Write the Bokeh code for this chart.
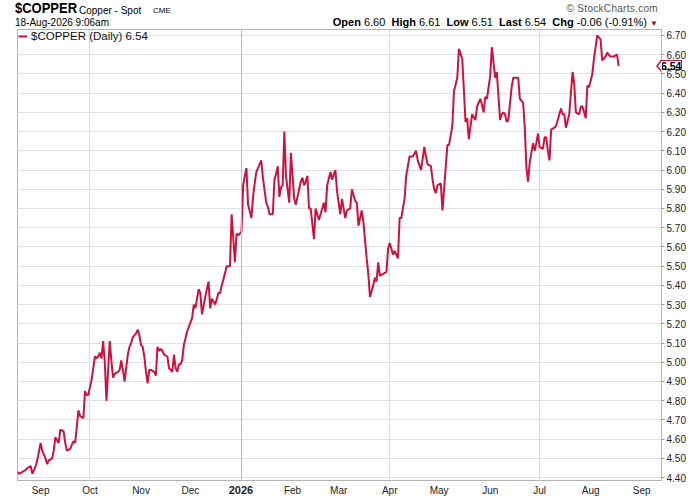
import pandas as pd
from bokeh.plotting import figure
from bokeh.models import (Range1d, FixedTicker, DatetimeTickFormatter, NumeralTickFormatter, Span, Div)
from bokeh.layouts import column
from bokeh.embed import file_html
from bokeh.resources import INLINE

# ---------------- data ----------------
dates = [
    "2025-08-18", "2025-08-19", "2025-08-21", "2025-08-23", "2025-08-24", "2025-08-26", "2025-08-27", "2025-08-29", "2025-08-30",
    "2025-09-01", "2025-09-02", "2025-09-04", "2025-09-05", "2025-09-06", "2025-09-08", "2025-09-09", "2025-09-10", "2025-09-12",
    "2025-09-13", "2025-09-15", "2025-09-16", "2025-09-17", "2025-09-19", "2025-09-20", "2025-09-21", "2025-09-22", "2025-09-24",
    "2025-09-25", "2025-09-27", "2025-09-28", "2025-09-29", "2025-09-30",
    "2025-10-02", "2025-10-03", "2025-10-04", "2025-10-05", "2025-10-06", "2025-10-07", "2025-10-08", "2025-10-09", "2025-10-10",
    "2025-10-11", "2025-10-13", "2025-10-14", "2025-10-15", "2025-10-16", "2025-10-18", "2025-10-19", "2025-10-20", "2025-10-21",
    "2025-10-22", "2025-10-23", "2025-10-24", "2025-10-25", "2025-10-26", "2025-10-27", "2025-10-28", "2025-10-29", "2025-10-30",
    "2025-10-31",
    "2025-11-01", "2025-11-02", "2025-11-03", "2025-11-04", "2025-11-05", "2025-11-06", "2025-11-07", "2025-11-09", "2025-11-10",
    "2025-11-11", "2025-11-12", "2025-11-13", "2025-11-14", "2025-11-15", "2025-11-17", "2025-11-18", "2025-11-19", "2025-11-20",
    "2025-11-21", "2025-11-22", "2025-11-23", "2025-11-24", "2025-11-25", "2025-11-26", "2025-11-27", "2025-11-29",
    "2025-12-02", "2025-12-03", "2025-12-04", "2025-12-06", "2025-12-07", "2025-12-08", "2025-12-10", "2025-12-12", "2025-12-13",
    "2025-12-14", "2025-12-16", "2025-12-18", "2025-12-19", "2025-12-20", "2025-12-21", "2025-12-23", "2025-12-24", "2025-12-25",
    "2025-12-26", "2025-12-28", "2025-12-29", "2025-12-30",
    "2026-01-01", "2026-01-02", "2026-01-03", "2026-01-04", "2026-01-05", "2026-01-07", "2026-01-08", "2026-01-09", "2026-01-10",
    "2026-01-11", "2026-01-13", "2026-01-14", "2026-01-16", "2026-01-17", "2026-01-18", "2026-01-20", "2026-01-21", "2026-01-22",
    "2026-01-23", "2026-01-24", "2026-01-25", "2026-01-26", "2026-01-27", "2026-01-28", "2026-01-30", "2026-01-31",
    "2026-02-01", "2026-02-02", "2026-02-03", "2026-02-05", "2026-02-06", "2026-02-07", "2026-02-08", "2026-02-09", "2026-02-10",
    "2026-02-11", "2026-02-12", "2026-02-14", "2026-02-15", "2026-02-17", "2026-02-20", "2026-02-21", "2026-02-22", "2026-02-24",
    "2026-02-25", "2026-02-27", "2026-02-28",
    "2026-03-02", "2026-03-03", "2026-03-05", "2026-03-06", "2026-03-08", "2026-03-09", "2026-03-11", "2026-03-12", "2026-03-13",
    "2026-03-15", "2026-03-16", "2026-03-18", "2026-03-19", "2026-03-20", "2026-03-22", "2026-03-23", "2026-03-24", "2026-03-25",
    "2026-03-26", "2026-03-28", "2026-03-30", "2026-03-31",
    "2026-04-01", "2026-04-03", "2026-04-04", "2026-04-06", "2026-04-07", "2026-04-08", "2026-04-10", "2026-04-11", "2026-04-13",
    "2026-04-14", "2026-04-15", "2026-04-17", "2026-04-18", "2026-04-20", "2026-04-22", "2026-04-23", "2026-04-24", "2026-04-26",
    "2026-04-27", "2026-04-28", "2026-04-29", "2026-04-30",
    "2026-05-02", "2026-05-03", "2026-05-04", "2026-05-06", "2026-05-07", "2026-05-09", "2026-05-10", "2026-05-12", "2026-05-13",
    "2026-05-15", "2026-05-16", "2026-05-17", "2026-05-18", "2026-05-19", "2026-05-21", "2026-05-23", "2026-05-24", "2026-05-26",
    "2026-05-27", "2026-05-28", "2026-05-29", "2026-05-30",
    "2026-06-01", "2026-06-02", "2026-06-04", "2026-06-05", "2026-06-07", "2026-06-08", "2026-06-09", "2026-06-10", "2026-06-11",
    "2026-06-12", "2026-06-14", "2026-06-15", "2026-06-17", "2026-06-18", "2026-06-19", "2026-06-21", "2026-06-22", "2026-06-23",
    "2026-06-24", "2026-06-25", "2026-06-27", "2026-06-28", "2026-06-29", "2026-06-30",
    "2026-07-01", "2026-07-03", "2026-07-04", "2026-07-05", "2026-07-06", "2026-07-07", "2026-07-08", "2026-07-10", "2026-07-11",
    "2026-07-13", "2026-07-14", "2026-07-15", "2026-07-16", "2026-07-17", "2026-07-19", "2026-07-21", "2026-07-22", "2026-07-23",
    "2026-07-25", "2026-07-26", "2026-07-27", "2026-07-29", "2026-07-30", "2026-07-31",
    "2026-08-02", "2026-08-03", "2026-08-05", "2026-08-07", "2026-08-08", "2026-08-10", "2026-08-11", "2026-08-13", "2026-08-15",
    "2026-08-17", "2026-08-18",
]

close = [
    4.43, 4.42, 4.43, 4.44, 4.45, 4.46, 4.42, 4.46, 4.49,
    4.58, 4.54, 4.50, 4.47, 4.49, 4.50, 4.54, 4.61, 4.58, 4.65, 4.64, 4.58, 4.54, 4.55, 4.57, 4.59, 4.58, 4.75, 4.72, 4.71,
    4.85, 4.83, 4.83,
    4.91, 4.97, 5.03, 5.02, 5.03, 5.05, 5.02, 5.11, 5.00, 4.80, 5.11, 5.01, 4.92, 4.94, 4.95, 4.96, 5.01, 4.96, 4.90, 4.97,
    5.04, 5.08, 5.10, 5.13, 5.14, 5.15, 5.17, 5.14,
    5.09, 5.08, 5.03, 4.95, 4.89, 4.96, 4.96, 4.95, 4.93, 5.08, 5.06, 5.07, 5.06, 5.04, 5.03, 4.97, 4.96, 4.95, 5.04, 4.97,
    4.95, 4.99, 4.99, 5.01, 5.09, 5.16,
    5.23, 5.30, 5.28, 5.38, 5.36, 5.25, 5.34, 5.42, 5.28, 5.33, 5.30, 5.36, 5.36, 5.40, 5.43, 5.50, 5.50, 5.50, 5.77, 5.52,
    5.67, 5.66,
    5.68, 5.92, 5.97, 6.01, 5.82, 5.75, 5.86, 5.93, 5.99, 6.01, 6.05, 5.96, 5.83, 5.81, 5.77, 5.77, 5.95, 5.98, 6.02, 5.86,
    5.91, 5.92, 6.20, 5.97, 5.83, 6.09,
    5.97, 5.85, 5.82, 5.90, 5.94, 5.96, 5.92, 5.94, 5.97, 5.80, 5.80, 5.64, 5.80, 5.74, 5.83, 5.78, 5.92, 5.99, 5.95, 6.00,
    5.89,
    5.77, 5.85, 5.75, 5.79, 5.80, 5.90, 5.84, 5.83, 5.71, 5.79, 5.73, 5.54, 5.46, 5.34, 5.40, 5.44, 5.42, 5.52, 5.45, 5.46,
    5.47, 5.59,
    5.62, 5.56, 5.58, 5.54, 5.75, 5.75, 5.85, 5.97, 6.07, 6.07, 6.07, 6.10, 6.05, 6.00, 6.12, 6.07, 6.03, 6.02, 5.95, 5.90,
    5.88, 5.92,
    5.93, 5.79, 5.90, 6.13, 6.13, 6.23, 6.41, 6.48, 6.63, 6.58, 6.42, 6.25, 6.27, 6.16, 6.29, 6.26, 6.33, 6.37, 6.34, 6.30,
    6.38, 6.37,
    6.49, 6.64, 6.48, 6.51, 6.26, 6.29, 6.30, 6.29, 6.25, 6.26, 6.43, 6.48, 6.48, 6.48, 6.37, 6.35, 6.22, 6.01, 5.94, 6.04,
    6.14, 6.10, 6.14, 6.19,
    6.12, 6.11, 6.17, 6.17, 6.10, 6.05, 6.21, 6.22, 6.23, 6.29, 6.32, 6.29, 6.29, 6.22, 6.29, 6.51, 6.45, 6.30, 6.29, 6.33,
    6.33, 6.27, 6.44, 6.43,
    6.50, 6.58, 6.70, 6.68, 6.57, 6.59, 6.61, 6.59, 6.59, 6.60, 6.54,
]

price_ticks = [4.40, 4.50, 4.60, 4.70, 4.80, 4.90, 5.00, 5.10, 5.20, 5.30, 5.40, 5.50,
               5.60, 5.70, 5.80, 5.90, 6.00, 6.10, 6.20, 6.30, 6.40, 6.50, 6.60, 6.70]
month_ticks = ["2025-09-01", "2025-10-01", "2025-11-01", "2025-12-01", "2026-01-01", "2026-02-01",
               "2026-03-01", "2026-04-01", "2026-05-01", "2026-06-01", "2026-07-01", "2026-08-01", "2026-09-01"]
quarter_ticks = ["2025-10-01", "2026-01-01", "2026-04-01", "2026-07-01"]
year_tick = "2026-01-01"
year_label = "2026"
x_limits = ["2025-08-18", "2026-09-13"]
y_limits = [4.385, 6.731]
last_value = "6.54"

RED = "#d2103c"
FONT = "Liberation Sans"

# layout sizes
FIG_W, FIG_H = 692, 470
HEAD_H = 28
BORDER_LEFT, BORDER_RIGHT = 17, 31
BORDER_TOP, BORDER_BOTTOM = 1, 17


def ms(d):
    return pd.Timestamp(d).value / 1e6


x = pd.to_datetime(dates)

p = figure(width=FIG_W, height=FIG_H, x_axis_type="datetime", y_axis_location="right",
           x_range=Range1d(ms(x_limits[0]), ms(x_limits[1])),
           y_range=Range1d(y_limits[0], y_limits[1]),
           output_backend="svg", toolbar_location=None,
           min_border_left=BORDER_LEFT, min_border_right=BORDER_RIGHT,
           min_border_top=BORDER_TOP, min_border_bottom=BORDER_BOTTOM)

p.background_fill_color = "white"
p.border_fill_color = "white"
p.outline_line_color = "#b4b4b4"
p.outline_line_width = 1

# grids
p.xgrid.ticker = FixedTicker(ticks=[ms(d) for d in quarter_ticks])
p.xgrid.grid_line_color = "#dcdcdc"
p.ygrid.grid_line_color = "#e0e0e0"
p.add_layout(Span(location=ms(year_tick), dimension="height", line_color="#b9b9b9", line_width=1))

# y axis (right)
ya = p.yaxis[0]
ya.ticker = FixedTicker(ticks=price_ticks)
ya.formatter = NumeralTickFormatter(format="0.00")
ya.axis_line_color = "#b4b4b4"
ya.major_tick_line_color = "#9a9a9a"
ya.major_tick_out = 3
ya.major_tick_in = 0
ya.minor_tick_line_color = None
ya.major_label_standoff = 2
ya.major_label_text_font = FONT
ya.major_label_text_font_size = "10px"
ya.major_label_text_color = "#222222"

# x axis (bottom); the year tick label is drawn bold in the overlay below
xa = p.xaxis[0]
xa.ticker = FixedTicker(ticks=[ms(d) for d in month_ticks])
xa.formatter = DatetimeTickFormatter(days="%b", months="%b", years="%b")
xa.major_label_overrides = {ms(year_tick): ""}
xa.axis_line_color = "#b4b4b4"
xa.major_tick_line_color = None
xa.major_tick_out = 0
xa.minor_tick_line_color = None
xa.major_label_standoff = 4
xa.major_label_text_font = FONT
xa.major_label_text_font_size = "10px"
xa.major_label_text_color = "#222222"

# price line
p.line(x, close, line_color=RED, line_width=2, legend_label="$COPPER (Daily) " + last_value)

lg = p.legend[0]
lg.location = "top_left"
lg.margin = 0
lg.padding = 1
lg.spacing = 0
lg.glyph_width = 9
lg.glyph_height = 10
lg.label_height = 10
lg.label_standoff = 4
lg.label_text_font = FONT
lg.label_text_font_size = "11.5px"
lg.label_text_color = "#111111"
lg.background_fill_alpha = 0
lg.border_line_alpha = 0

# overlay positions derived from the ranges
frame_top = HEAD_H + BORDER_TOP
frame_h = FIG_H - BORDER_TOP - BORDER_BOTTOM - 1
frame_w = FIG_W - BORDER_LEFT - BORDER_RIGHT
marker_y = frame_top + (y_limits[1] - close[-1]) / (y_limits[1] - y_limits[0]) * frame_h
marker_top = round(marker_y - 6)
marker_left = FIG_W - BORDER_RIGHT - 1
year_x = BORDER_LEFT + (ms(year_tick) - ms(x_limits[0])) / (ms(x_limits[1]) - ms(x_limits[0])) * frame_w
year_top = frame_top + frame_h + 4

header_html = f"""
<div style="position:relative;width:{FIG_W}px;height:{HEAD_H}px;font-family:'Liberation Sans',Arial,sans-serif;color:#000;">
  <div style="position:absolute;left:15px;top:0px;line-height:16.8px;white-space:nowrap;font-weight:bold;font-size:15px;transform:scaleX(0.865);transform-origin:left top;">$COPPER</div>
  <div style="position:absolute;left:79px;top:4.5px;line-height:11.2px;white-space:nowrap;font-size:10px;">Copper - Spot</div>
  <div style="position:absolute;left:153px;top:6.4px;line-height:9px;white-space:nowrap;font-size:8px;">CME</div>
  <div style="position:absolute;left:15px;top:16.9px;line-height:11.2px;font-size:10px;white-space:nowrap;">18-Aug-2026 9:06am</div>
  <div style="position:absolute;right:34px;top:3px;line-height:11.2px;font-size:10px;color:#555;white-space:nowrap;letter-spacing:0.3px;">&copy; StockCharts.com</div>
  <div style="position:absolute;right:34px;top:16px;line-height:12.3px;font-size:11px;white-space:nowrap;"><b>Open</b> 6.60&nbsp; <b>High</b> 6.61&nbsp; <b>Low</b> 6.51&nbsp; <b>Last</b> 6.54&nbsp; <b>Chg</b> -0.06 (-0.91%) <span style="color:#8b1030;font-size:8px;">&#9660;</span></div>
  <div style="position:absolute;left:{marker_left}px;top:{marker_top}px;width:22px;height:10px;border:1px solid {RED};background:#fff;
              font-size:10.5px;font-weight:bold;line-height:10px;text-align:center;color:#000;">{last_value}</div>
  <div style="position:absolute;left:{marker_left - 4}px;top:{marker_top}px;width:0;height:0;border-top:6px solid transparent;
              border-bottom:6px solid transparent;border-right:5px solid {RED};"></div>
  <div style="position:absolute;left:{marker_left - 2}px;top:{marker_top + 1}px;width:0;height:0;border-top:5px solid transparent;
              border-bottom:5px solid transparent;border-right:4px solid #fff;"></div>
  <div style="position:absolute;left:{year_x - 20:.1f}px;top:{year_top}px;width:40px;text-align:center;line-height:12px;
              font-size:11px;font-weight:bold;color:#222;">{year_label}</div>
</div>
"""

header = Div(width=FIG_W, height=HEAD_H, text=header_html, margin=0,
             styles={"overflow": "visible", "position": "relative", "z-index": "10"})

layout = column(header, p)

open("out.html", "w").write(file_html(layout, INLINE))
